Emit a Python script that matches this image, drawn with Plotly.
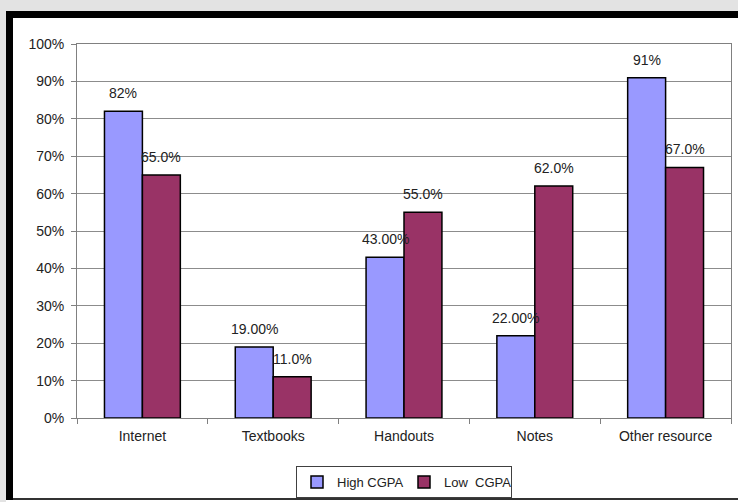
import plotly.graph_objects as go

categories = ["Internet", "Textbooks", "Handouts", "Notes", "Other resource"]
high_cgpa = [82, 19, 43, 22, 91]
low_cgpa = [65, 11, 55, 62, 67]
high_labels = ["82%", "19.00%", "43.00%", "22.00%", "91%"]
low_labels = ["65.0%", "11.0%", "55.0%", "62.0%", "67.0%"]
y_ticks = [0, 10, 20, 30, 40, 50, 60, 70, 80, 90, 100]
y_tick_text = ["0%", "10%", "20%", "30%", "40%", "50%", "60%", "70%", "80%", "90%", "100%"]
series_names = ["High CGPA", "Low\u00a0 CGPA"]

W, H = 738, 502
L, R, T, B = 77, 731, 44, 418


def px(x):
    return (x - L) / (R - L)


def py(y):
    return (B - y) / (B - T)


FONT = "Liberation Sans, Arial, sans-serif"
FS = 14

fig = go.Figure()
fig.add_trace(go.Bar(x=categories, y=high_cgpa, name=series_names[0],
                     marker=dict(color="#9999FF", line=dict(color="#000000", width=1.5))))
fig.add_trace(go.Bar(x=categories, y=low_cgpa, name=series_names[1],
                     marker=dict(color="#993366", line=dict(color="#000000", width=1.5))))

annotations = []
for c, v, t in zip(categories, high_cgpa, high_labels):
    annotations.append(dict(x=c, y=v, text=t, xref="x", yref="y", showarrow=False,
                            xshift=-19, yshift=18, font=dict(size=FS, color="#222")))
for c, v, t in zip(categories, low_cgpa, low_labels):
    annotations.append(dict(x=c, y=v, text=t, xref="x", yref="y", showarrow=False,
                            xshift=19, yshift=18, font=dict(size=FS, color="#222")))

shapes = [
    dict(type="rect", xref="paper", yref="paper", x0=px(0), x1=px(W), y0=py(0), y1=py(11),
         fillcolor="#e3e3e3", line=dict(width=0), layer="below"),
    dict(type="rect", xref="paper", yref="paper", x0=px(0), x1=px(6), y0=py(0), y1=py(H),
         fillcolor="#e3e3e3", line=dict(width=0), layer="below"),
    dict(type="rect", xref="paper", yref="paper", x0=px(6), x1=px(W), y0=py(11), y1=py(18),
         fillcolor="#000000", line=dict(width=0), layer="below"),
    dict(type="rect", xref="paper", yref="paper", x0=px(6), x1=px(13), y0=py(11), y1=py(500),
         fillcolor="#000000", line=dict(width=0), layer="below"),
    dict(type="line", xref="paper", yref="paper", x0=px(13), x1=px(W), y0=py(499), y1=py(499),
         line=dict(color="#333333", width=2), layer="below"),
]

fig.update_layout(
    width=W, height=H,
    margin=dict(l=L, r=W - R, t=T, b=H - B, pad=0, autoexpand=False),
    paper_bgcolor="#ffffff", plot_bgcolor="#ffffff",
    barmode="group", bargap=0.42, bargroupgap=0,
    font=dict(family=FONT, size=FS, color="#222"),
    showlegend=True,
    legend=dict(orientation="h", x=0.5, xanchor="center", y=py(466), yanchor="top",
                bordercolor="#404040", borderwidth=1, bgcolor="#ffffff",
                font=dict(size=13, color="#222"), itemwidth=30, tracegroupgap=0,
                entrywidth=62),
    annotations=annotations,
    shapes=shapes,
)
fig.update_xaxes(showline=True, linecolor="#808080", linewidth=1, mirror=True,
                 ticks="outside", ticklen=5, tickcolor="#808080", tickson="boundaries",
                 showgrid=False, ticklabelstandoff=5, fixedrange=True, automargin=False)
fig.update_yaxes(range=[0, 100], tickvals=y_ticks, ticktext=y_tick_text,
                 showline=True, linecolor="#808080", linewidth=1, mirror=True,
                 ticks="outside", ticklen=5, tickcolor="#808080",
                 showgrid=True, gridcolor="#8c8c8c", gridwidth=1,
                 zeroline=False, ticklabelstandoff=4, fixedrange=True, automargin=False)

fig.write_html("out.html")
